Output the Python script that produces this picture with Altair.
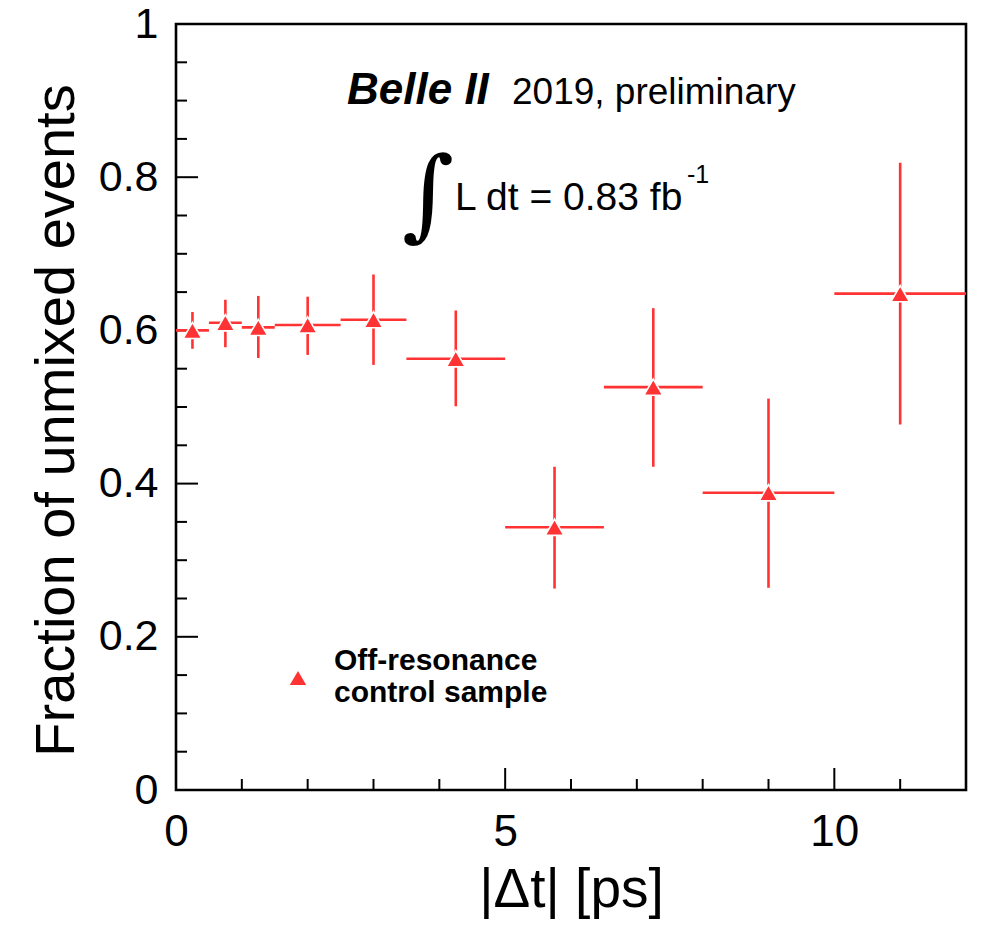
import altair as alt
import pandas as pd

# ---- data ----
bin_lo = [0.0, 0.5, 1.0, 1.5, 2.5, 3.5, 5.0, 6.5, 8.0, 10.0]
bin_hi = [0.5, 1.0, 1.5, 2.5, 3.5, 5.0, 6.5, 8.0, 10.0, 12.0]
x_center = [0.25, 0.75, 1.25, 2.0, 3.0, 4.25, 5.75, 7.25, 9.0, 11.0]
fraction = [0.600, 0.610, 0.604, 0.607, 0.614, 0.563, 0.343, 0.526, 0.388, 0.648]
err_lo = [0.576, 0.578, 0.564, 0.568, 0.555, 0.501, 0.263, 0.422, 0.264, 0.477]
err_hi = [0.624, 0.640, 0.645, 0.644, 0.673, 0.626, 0.422, 0.629, 0.511, 0.819]

y_major = [0.0, 0.2, 0.4, 0.6, 0.8, 1.0]
y_minor = [0.05, 0.1, 0.15, 0.25, 0.3, 0.35, 0.45, 0.5, 0.55, 0.65, 0.7, 0.75,
           0.85, 0.9, 0.95]
x_major = [0, 5, 10]
x_minor = [1, 2, 3, 4, 6, 7, 8, 9, 11]

x_title = "|Δt| [ps]"
y_title = "Fraction of unmixed events"
exp_name = "Belle II"
exp_note = "2019, preliminary"
lumi_text = "L dt = 0.83 fb"
lumi_exp = "-1"
legend_lines = ["Off-resonance", "control sample"]

# ---- layout ----
W, H = 790, 766
RED = "#ff3333"
FONT = "Liberation Sans"

df = pd.DataFrame({"lo": bin_lo, "hi": bin_hi, "x": x_center, "y": fraction,
                   "ylo": err_lo, "yhi": err_hi})

xs = alt.Scale(domain=[0, 12], nice=False, zero=False)
ys = alt.Scale(domain=[0, 1], nice=False, zero=False)

x_axis = alt.Axis(values=x_major, ticks=False, domain=False, grid=False,
                  labelFont=FONT, labelFontSize=44, labelColor="black",
                  labelPadding=20, labelFlush=False,
                  title=x_title, titleFont=FONT, titleFontSize=55,
                  titleFontWeight="normal", titleColor="black",
                  titleBaseline="alphabetic", titleY=116)
y_axis = alt.Axis(values=y_major, ticks=False, domain=False, grid=False,
                  format=".1~f",
                  labelFont=FONT, labelFontSize=43, labelColor="black",
                  labelPadding=18, labelFlush=False,
                  title=y_title, titleFont=FONT, titleFontSize=56,
                  titleFontWeight="normal", titleColor="black",
                  titleBaseline="alphabetic", titleX=-103, titleY=396,
                  titleAngle=270)


def X(field):
    return alt.X(field, scale=xs, axis=x_axis)


def Y(field):
    return alt.Y(field, scale=ys, axis=y_axis)


hbars = alt.Chart(df).mark_rule(color=RED, strokeWidth=2.6).encode(
    x=X("lo:Q"), x2="hi:Q", y=Y("y:Q"),
)
vbars = alt.Chart(df).mark_rule(color=RED, strokeWidth=2.6).encode(
    x=X("x:Q"), y=Y("ylo:Q"), y2="yhi:Q",
)
markers = alt.Chart(df).mark_point(shape="triangle-up", filled=True, fill=RED,
                                   stroke="white", strokeWidth=1.6, size=350,
                                   opacity=1).encode(
    x=X("x:Q"), y=Y("y:Q"),
)

# inward ticks
ytick_major = alt.Chart(pd.DataFrame({"v": y_major})).mark_rule(
    color="black", strokeWidth=2).encode(
    y=Y("v:Q"), x=alt.value(0), x2=alt.value(22))
ytick_minor = alt.Chart(pd.DataFrame({"v": y_minor})).mark_rule(
    color="black", strokeWidth=2).encode(
    y=Y("v:Q"), x=alt.value(0), x2=alt.value(11))
xtick_major = alt.Chart(pd.DataFrame({"v": x_major})).mark_rule(
    color="black", strokeWidth=2).encode(
    x=X("v:Q"), y=alt.value(H), y2=alt.value(H - 22))
xtick_minor = alt.Chart(pd.DataFrame({"v": x_minor})).mark_rule(
    color="black", strokeWidth=2).encode(
    x=X("v:Q"), y=alt.value(H), y2=alt.value(H - 11))

one = alt.Data(values=[{}])


def label(text, x, y, size, weight="normal", style="normal", font=FONT,
          align="left", color="black"):
    return alt.Chart(one).mark_text(
        text=text, font=font, fontSize=size, fontWeight=weight,
        fontStyle=style, align=align, baseline="alphabetic", color=color
    ).encode(x=alt.value(x), y=alt.value(y))


texts = [
    label(exp_name, 171, 80, 44, weight="bold", style="italic"),
    label(exp_note, 336, 80, 37),
    label("∫", 226, 204, 100, font="DejaVu Serif"),
    label(lumi_text, 279, 186, 39),
    label(lumi_exp, 511, 159, 25),
    label(legend_lines[0], 158, 646, 30, weight="bold"),
    label(legend_lines[1], 158, 678, 30, weight="bold"),
]
legend_marker = alt.Chart(one).mark_point(
    shape="triangle-up", filled=True, fill=RED, strokeWidth=0, size=270,
    opacity=1).encode(x=alt.value(122), y=alt.value(654))

chart = alt.layer(
    ytick_major, ytick_minor, xtick_major, xtick_minor,
    hbars, vbars, markers, legend_marker, *texts
).properties(
    width=W, height=H,
    autosize=alt.AutoSizeParams(type="none"),
    padding={"left": 176, "top": 24, "right": 15, "bottom": 139},
    background="white",
).configure_view(stroke="black", strokeWidth=2.6)

chart.save("out.html", embed_options={"renderer": "svg", "actions": False})
